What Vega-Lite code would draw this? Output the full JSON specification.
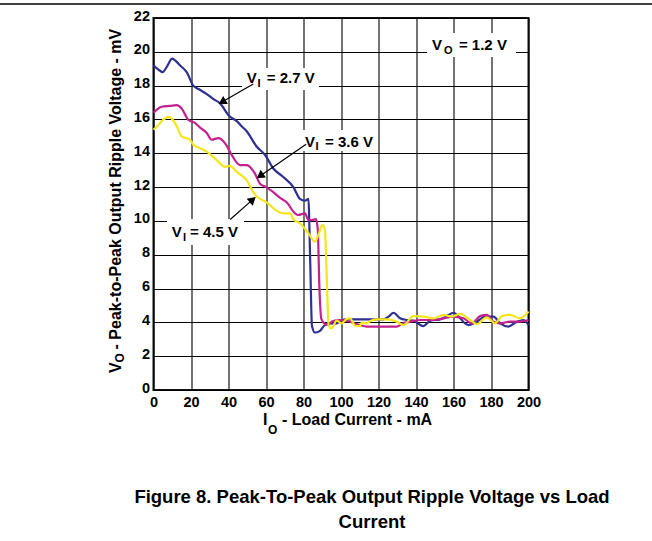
{
  "$schema": "https://vega.github.io/schema/vega-lite/v6.json",
  "usermeta": {"embedOptions": {"actions": false}},
  "width": 375,
  "height": 372,
  "autosize": "none",
  "padding": {"left": 153.5, "top": 18, "right": 123.5, "bottom": 151},
  "background": "white",
  "title": {
    "text": ["Figure 8. Peak-To-Peak Output Ripple Voltage vs Load", "Current"],
    "orient": "bottom",
    "anchor": "middle",
    "frame": "group",
    "dx": 31,
    "offset": 52,
    "font": "Liberation Sans",
    "fontSize": 18.5,
    "fontWeight": "bold",
    "color": "black",
    "lineHeight": 25
  },
  "datasets": {
    "curves": [
      {"series":"2.7","x":0,"y":19.2},{"series":"2.7","x":2,"y":19.0},{"series":"2.7","x":4.9,"y":18.8},{"series":"2.7","x":7,"y":19.1},{"series":"2.7","x":10,"y":19.6},{"series":"2.7","x":12,"y":19.45},{"series":"2.7","x":14.1,"y":19.2},{"series":"2.7","x":17.7,"y":18.8},{"series":"2.7","x":21.2,"y":18.0},{"series":"2.7","x":24,"y":17.8},{"series":"2.7","x":28.4,"y":17.5},{"series":"2.7","x":32,"y":17.2},{"series":"2.7","x":35.5,"y":16.95},{"series":"2.7","x":40.4,"y":16.2},{"series":"2.7","x":44.4,"y":15.9},{"series":"2.7","x":47,"y":15.6},{"series":"2.7","x":49.7,"y":15.3},{"series":"2.7","x":55,"y":14.4},{"series":"2.7","x":59.5,"y":13.9},{"series":"2.7","x":63.9,"y":13.1},{"series":"2.7","x":69.2,"y":12.6},{"series":"2.7","x":74.6,"y":12.0},{"series":"2.7","x":78.1,"y":11.3},{"series":"2.7","x":80.8,"y":11.2},{"series":"2.7","x":82.6,"y":11.3},{"series":"2.7","x":83.6,"y":7.5},{"series":"2.7","x":84.5,"y":3.8},{"series":"2.7","x":86.1,"y":3.4},{"series":"2.7","x":88.8,"y":3.5},{"series":"2.7","x":91,"y":3.8},{"series":"2.7","x":93.2,"y":3.94},{"series":"2.7","x":97.7,"y":3.94},{"series":"2.7","x":100,"y":4.1},{"series":"2.7","x":103,"y":4.18},{"series":"2.7","x":113.7,"y":4.18},{"series":"2.7","x":122.6,"y":4.18},{"series":"2.7","x":125.5,"y":4.35},{"series":"2.7","x":128,"y":4.57},{"series":"2.7","x":131.5,"y":4.24},{"series":"2.7","x":135.1,"y":4.14},{"series":"2.7","x":138.7,"y":4.1},{"series":"2.7","x":141.5,"y":3.9},{"series":"2.7","x":144,"y":3.78},{"series":"2.7","x":147.6,"y":4.1},{"series":"2.7","x":152.9,"y":4.18},{"series":"2.7","x":156.5,"y":4.37},{"series":"2.7","x":160,"y":4.57},{"series":"2.7","x":163.6,"y":4.24},{"series":"2.7","x":166,"y":3.95},{"series":"2.7","x":168,"y":3.84},{"series":"2.7","x":172.5,"y":4.04},{"series":"2.7","x":176.9,"y":4.34},{"series":"2.7","x":181.3,"y":4.34},{"series":"2.7","x":184.9,"y":3.94},{"series":"2.7","x":189.3,"y":3.75},{"series":"2.7","x":193.8,"y":4.04},{"series":"2.7","x":197.3,"y":4.14},{"series":"2.7","x":200,"y":3.84},
      {"series":"3.6","x":0,"y":16.4},{"series":"3.6","x":2,"y":16.6},{"series":"3.6","x":4.4,"y":16.75},{"series":"3.6","x":8.8,"y":16.8},{"series":"3.6","x":12.4,"y":16.85},{"series":"3.6","x":15,"y":16.65},{"series":"3.6","x":18.6,"y":15.97},{"series":"3.6","x":22.1,"y":15.8},{"series":"3.6","x":25,"y":15.5},{"series":"3.6","x":28.4,"y":15.2},{"series":"3.6","x":31,"y":14.8},{"series":"3.6","x":34.6,"y":14.9},{"series":"3.6","x":38.1,"y":14.6},{"series":"3.6","x":41.7,"y":13.9},{"series":"3.6","x":46.1,"y":13.3},{"series":"3.6","x":49.7,"y":13.3},{"series":"3.6","x":54.1,"y":12.8},{"series":"3.6","x":56.8,"y":12.2},{"series":"3.6","x":60,"y":12.0},{"series":"3.6","x":63.9,"y":11.7},{"series":"3.6","x":67,"y":11.4},{"series":"3.6","x":71,"y":11.1},{"series":"3.6","x":75.5,"y":10.45},{"series":"3.6","x":77.2,"y":10.35},{"series":"3.6","x":80.8,"y":10.45},{"series":"3.6","x":82.6,"y":10.05},{"series":"3.6","x":84.5,"y":10.05},{"series":"3.6","x":86.7,"y":10.1},{"series":"3.6","x":87.6,"y":9.5},{"series":"3.6","x":88.5,"y":6},{"series":"3.6","x":89.5,"y":4.2},{"series":"3.6","x":91.5,"y":3.9},{"series":"3.6","x":93.2,"y":3.85},{"series":"3.6","x":95,"y":4.04},{"series":"3.6","x":96.7,"y":4.1},{"series":"3.6","x":99.4,"y":4.14},{"series":"3.6","x":104.8,"y":4.04},{"series":"3.6","x":110.1,"y":3.84},{"series":"3.6","x":113.7,"y":3.75},{"series":"3.6","x":122.6,"y":3.75},{"series":"3.6","x":129.7,"y":3.75},{"series":"3.6","x":133,"y":3.95},{"series":"3.6","x":136.9,"y":4.04},{"series":"3.6","x":142.2,"y":4.14},{"series":"3.6","x":149.3,"y":4.14},{"series":"3.6","x":154.6,"y":4.24},{"series":"3.6","x":160,"y":4.34},{"series":"3.6","x":165.3,"y":4.24},{"series":"3.6","x":169.7,"y":3.94},{"series":"3.6","x":174.2,"y":4.37},{"series":"3.6","x":177.7,"y":4.44},{"series":"3.6","x":181.3,"y":4.04},{"series":"3.6","x":184.9,"y":3.94},{"series":"3.6","x":190.2,"y":4.04},{"series":"3.6","x":195.5,"y":4.04},{"series":"3.6","x":200,"y":4.14},
      {"series":"4.5","x":0,"y":15.4},{"series":"4.5","x":2,"y":15.6},{"series":"4.5","x":4.4,"y":15.9},{"series":"4.5","x":7.9,"y":16.15},{"series":"4.5","x":9.7,"y":16.05},{"series":"4.5","x":12.4,"y":15.6},{"series":"4.5","x":15,"y":15.0},{"series":"4.5","x":19.5,"y":14.8},{"series":"4.5","x":21.2,"y":14.5},{"series":"4.5","x":25,"y":14.3},{"series":"4.5","x":28.4,"y":14.1},{"series":"4.5","x":33.7,"y":13.6},{"series":"4.5","x":38.1,"y":13.2},{"series":"4.5","x":40.8,"y":13.25},{"series":"4.5","x":44.4,"y":12.9},{"series":"4.5","x":49.7,"y":12.4},{"series":"4.5","x":54.1,"y":11.55},{"series":"4.5","x":60.4,"y":11.1},{"series":"4.5","x":65.7,"y":10.6},{"series":"4.5","x":69.2,"y":10.45},{"series":"4.5","x":72.8,"y":10.45},{"series":"4.5","x":74.6,"y":10.1},{"series":"4.5","x":78.1,"y":9.86},{"series":"4.5","x":82.6,"y":9.27},{"series":"4.5","x":86.1,"y":8.77},{"series":"4.5","x":87.9,"y":9.17},{"series":"4.5","x":90.2,"y":9.76},{"series":"4.5","x":91.4,"y":9.46},{"series":"4.5","x":92.6,"y":6},{"series":"4.5","x":93.4,"y":3.8},{"series":"4.5","x":95,"y":3.65},{"series":"4.5","x":97.7,"y":4.1},{"series":"4.5","x":100.4,"y":3.94},{"series":"4.5","x":103,"y":4.2},{"series":"4.5","x":104.8,"y":4.24},{"series":"4.5","x":107.5,"y":3.8},{"series":"4.5","x":110.1,"y":3.78},{"series":"4.5","x":111.1,"y":4.0},{"series":"4.5","x":113.7,"y":3.94},{"series":"4.5","x":116,"y":4.1},{"series":"4.5","x":119,"y":4.18},{"series":"4.5","x":124.4,"y":4.18},{"series":"4.5","x":129.7,"y":4.04},{"series":"4.5","x":133.3,"y":3.84},{"series":"4.5","x":138.7,"y":4.37},{"series":"4.5","x":144,"y":4.34},{"series":"4.5","x":149.3,"y":4.24},{"series":"4.5","x":154.6,"y":4.44},{"series":"4.5","x":159.1,"y":4.34},{"series":"4.5","x":163.6,"y":4.5},{"series":"4.5","x":168.9,"y":4.14},{"series":"4.5","x":172.5,"y":3.9},{"series":"4.5","x":177.7,"y":4.3},{"series":"4.5","x":182.2,"y":3.94},{"series":"4.5","x":185.8,"y":4.37},{"series":"4.5","x":190.2,"y":4.44},{"series":"4.5","x":195.5,"y":4.24},{"series":"4.5","x":200,"y":4.64}
    ],
    "boxes": [
      {"x":145.9,"x2":193.3,"y":19.69,"y2":21.11},
      {"x":47.2,"x2":88.3,"y":17.74,"y2":19.04},
      {"x":78.1,"x2":119.7,"y":14.14,"y2":15.38},
      {"x":7.2,"x2":48.3,"y":8.57,"y2":10.11}
    ],
    "header": [{"x":-81.9,"x2":266,"y":22.83}],
    "arrows": [
      {"series":"2.7","x":53.2,"y":18.1,"x2":37.0,"y2":17.06},
      {"series":"3.6","x":81.4,"y":14.53,"x2":57.2,"y2":12.69},
      {"series":"4.5","x":40.9,"y":10.08,"x2":52.6,"y2":11.23}
    ],
    "heads": [
      {"series":"2.7","x":36.6,"y":17.03},
      {"series":"3.6","x":56.8,"y":12.66},
      {"series":"4.5","x":52.9,"y":11.26}
    ],
    "labels": [
      {"kind":"main","t":"V","x":148.5,"y":20.1},
      {"kind":"sub","t":"O","x":154.9,"y":19.87},
      {"kind":"main","t":"= 1.2 V","x":162.9,"y":20.1},
      {"kind":"main","t":"V","x":49.7,"y":18.14},
      {"kind":"sub","t":"I","x":55.5,"y":17.94},
      {"kind":"main","t":"= 2.7 V","x":60.4,"y":18.14},
      {"kind":"main","t":"V","x":80.8,"y":14.39},
      {"kind":"sub","t":"I","x":86.4,"y":14.17},
      {"kind":"main","t":"= 3.6 V","x":91.5,"y":14.39},
      {"kind":"main","t":"V","x":9.7,"y":9.03},
      {"kind":"sub","t":"I","x":15.7,"y":8.81},
      {"kind":"main","t":"= 4.5 V","x":19.5,"y":9.03},
      {"kind":"xmain","t":"I","x":58.4,"y":-2.07},
      {"kind":"xsub","t":"O","x":61.1,"y":-2.6},
      {"kind":"xmain","t":"- Load Current - mA","x":68.5,"y":-2.07},
      {"kind":"ymain","t":"V","x":-17.6,"y":1.0},
      {"kind":"ysub","t":"O","x":-15.9,"y":1.63},
      {"kind":"ymain","t":"- Peak-to-Peak Output Ripple Voltage - mV","x":-17.6,"y":2.4}
    ]
  },
  "encoding": {
    "x": {"field": "x", "type": "quantitative", "scale": {"domain": [0, 200], "nice": false, "zero": false}, "axis": {"values": [0,20,40,60,80,100,120,140,160,180,200]}, "title": null},
    "y": {"field": "y", "type": "quantitative", "scale": {"domain": [0, 22], "nice": false, "zero": false}, "axis": {"values": [0,2,4,6,8,10,12,14,16,18,20,22]}, "title": null}
  },
  "layer": [
    {
      "data": {"name": "header"},
      "mark": {"type": "rule", "stroke": "black", "strokeWidth": 1.5, "clip": false},
      "encoding": {"x2": {"field": "x2"}}
    },
    {
      "data": {"name": "boxes"},
      "mark": {"type": "rect", "fill": "white", "stroke": null},
      "encoding": {"x2": {"field": "x2"}, "y2": {"field": "y2"}}
    },
    {
      "data": {"name": "curves"},
      "mark": {"type": "line", "strokeWidth": 2.2, "interpolate": "monotone"},
      "encoding": {
        "color": {"field": "series", "type": "nominal", "scale": {"domain": ["2.7", "3.6", "4.5"], "range": ["#2e3192", "#c2228e", "#f5e51c"]}, "legend": null}
      }
    },
    {
      "data": {"name": "arrows"},
      "mark": {"type": "rule", "stroke": "black", "strokeWidth": 1.2},
      "encoding": {"x2": {"field": "x2"}, "y2": {"field": "y2"}}
    },
    {
      "data": {"name": "heads"},
      "transform": [{"filter": "datum.series === '2.7'"}],
      "mark": {"type": "point", "shape": "triangle-up", "filled": true, "color": "black", "opacity": 1, "size": 85, "angle": 239.5}
    },
    {
      "data": {"name": "heads"},
      "transform": [{"filter": "datum.series === '3.6'"}],
      "mark": {"type": "point", "shape": "triangle-up", "filled": true, "color": "black", "opacity": 1, "size": 85, "angle": 235}
    },
    {
      "data": {"name": "heads"},
      "transform": [{"filter": "datum.series === '4.5'"}],
      "mark": {"type": "point", "shape": "triangle-up", "filled": true, "color": "black", "opacity": 1, "size": 85, "angle": 48.7}
    },
    {
      "data": {"name": "labels"},
      "transform": [{"filter": "datum.kind === 'main'"}],
      "mark": {"type": "text", "align": "left", "baseline": "alphabetic", "font": "Liberation Sans", "fontWeight": "bold", "fontSize": 15, "color": "black"},
      "encoding": {"text": {"field": "t"}}
    },
    {
      "data": {"name": "labels"},
      "transform": [{"filter": "datum.kind === 'sub'"}],
      "mark": {"type": "text", "align": "left", "baseline": "alphabetic", "font": "Liberation Sans", "fontWeight": "bold", "fontSize": 11, "color": "black"},
      "encoding": {"text": {"field": "t"}}
    },
    {
      "data": {"name": "labels"},
      "transform": [{"filter": "datum.kind === 'xmain'"}],
      "mark": {"type": "text", "align": "left", "baseline": "alphabetic", "font": "Liberation Sans", "fontWeight": "bold", "fontSize": 16, "color": "black", "clip": false},
      "encoding": {"text": {"field": "t"}}
    },
    {
      "data": {"name": "labels"},
      "transform": [{"filter": "datum.kind === 'xsub'"}],
      "mark": {"type": "text", "align": "left", "baseline": "alphabetic", "font": "Liberation Sans", "fontWeight": "bold", "fontSize": 12, "color": "black", "clip": false},
      "encoding": {"text": {"field": "t"}}
    },
    {
      "data": {"name": "labels"},
      "transform": [{"filter": "datum.kind === 'ymain'"}],
      "mark": {"type": "text", "align": "left", "baseline": "alphabetic", "angle": 270, "font": "Liberation Sans", "fontWeight": "bold", "fontSize": 16, "color": "black", "clip": false},
      "encoding": {"text": {"field": "t"}}
    },
    {
      "data": {"name": "labels"},
      "transform": [{"filter": "datum.kind === 'ysub'"}],
      "mark": {"type": "text", "align": "left", "baseline": "alphabetic", "angle": 270, "font": "Liberation Sans", "fontWeight": "bold", "fontSize": 12, "color": "black", "clip": false},
      "encoding": {"text": {"field": "t"}}
    }
  ],
  "config": {
    "view": {"stroke": "#111111", "strokeWidth": 2},
    "axis": {
      "labelFont": "Liberation Sans",
      "labelFontWeight": "bold",
      "labelFontSize": 14.5,
      "labelColor": "black",
      "ticks": false,
      "domain": false,
      "grid": true,
      "gridColor": "black",
      "gridOpacity": 1,
      "gridWidth": 1.1,
      "labelOverlap": false,
      "labelFlush": false,
      "labelBound": false
    },
    "axisX": {"labelPadding": 5},
    "axisY": {"labelPadding": 4, "labelOffset": -2}
  }
}
